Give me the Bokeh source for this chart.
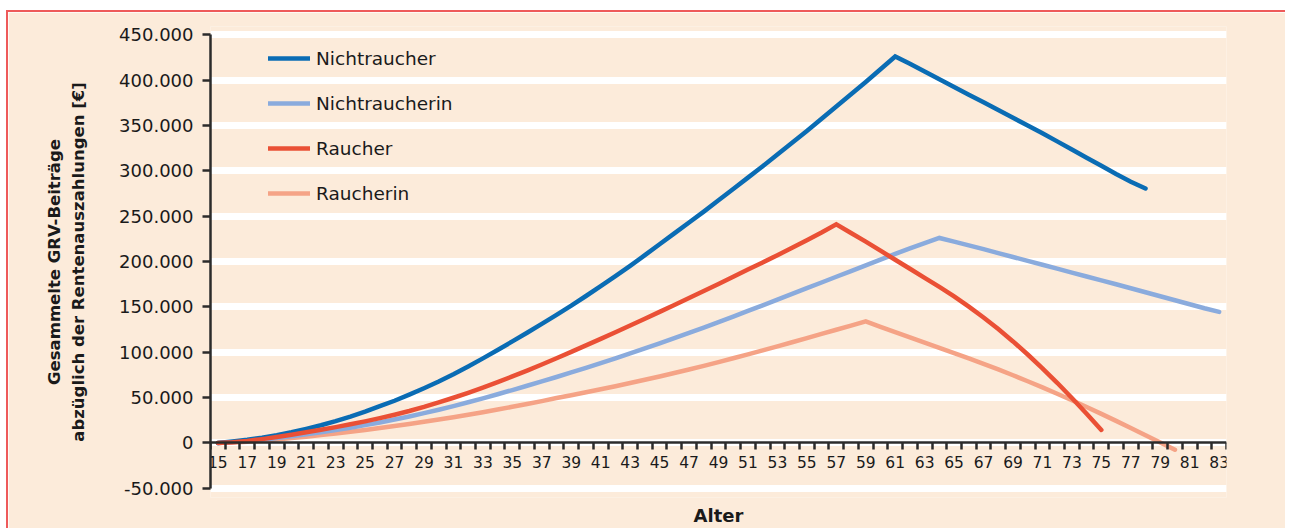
from bokeh.plotting import figure
from bokeh.models import LinearAxis, FixedTicker, Range1d, Legend, LegendItem, Title, ColumnDataSource
from bokeh.embed import file_html
from bokeh.resources import INLINE

# ---------------- data ----------------
ages_nichtraucher = list(range(15, 79))
nichtraucher = [0, 1600, 3500, 5800, 8600, 11800, 15500, 19500, 24000, 29000,
                34500, 40500, 46500, 53200, 60300, 67800, 75800, 84300, 93200, 102400,
                111900, 121500, 131200, 141200, 151400, 162000, 172800, 183800, 195200, 207000,
                219000, 231000, 243000, 255000, 267500, 280000, 292500, 305000, 318000, 331000,
                344000, 357500, 371000, 384500, 398000, 412000, 426000,
                418000, 409500, 401000, 392500, 384000, 375500, 367000, 358500, 350000,
                341500, 332500, 323500, 314500, 305500, 296500, 288000, 280500]

ages_nichtraucherin = list(range(15, 84))
nichtraucherin = [0, 900, 2100, 3600, 5400, 7400, 9500, 11800, 14200, 16800,
                  19600, 22600, 25800, 29200, 32800, 36600, 40600, 44800, 49200, 53700,
                  58300, 63000, 67800, 72700, 77700, 82800, 88000, 93300, 98700, 104200,
                  109800, 115500, 121300, 127200, 133200, 139300, 145500, 151700, 158000, 164300,
                  170600, 176900, 183200, 189500, 195800, 202100, 208400, 214500, 220400, 226000,
                  222000, 217800, 213600, 209300, 205000, 200700, 196400, 192100, 187800, 183500,
                  179200, 174900, 170500, 166100, 161700, 157300, 152900, 148500, 144500]

ages_raucher = list(range(15, 76))
raucher = [0, 800, 2200, 4200, 6500, 9000, 11700, 14500, 17400, 20500,
           23800, 27300, 31100, 35200, 39700, 44600, 49800, 55300, 61000, 67000,
           73300, 79800, 86500, 93400, 100400, 107500, 114700, 122000, 129400, 136900,
           144500, 152100, 159800, 167500, 175300, 183200, 191100, 199000, 207000, 215100,
           223500, 232000, 241000,
           231500, 222000, 212000, 202000, 192000, 182000, 172000, 161500, 150300, 138300,
           125500, 111900, 97500, 82300, 66300, 49500, 32100, 14300]

ages_raucherin = list(range(15, 81))
raucherin = [0, 500, 1300, 2400, 3800, 5300, 6900, 8600, 10400, 12300,
             14300, 16400, 18600, 20900, 23300, 25800, 28400, 31100, 33900, 36800,
             39800, 42900, 46100, 49500, 52600, 55800, 59100, 62500, 66000, 69600,
             73300, 77100, 81000, 85000, 89100, 93300, 97600, 102000, 106500, 111000,
             115600, 120200, 124800, 129400, 134000,
             128000, 122200, 116400, 110600, 104800, 99000, 93100, 87100, 81000, 74600,
             68000, 61200, 54200, 47000, 39600, 32000, 24300, 16500, 8500, 500, -7500]

x_label_ages = list(range(15, 84, 2))
y_ticks = [-50000, 0, 50000, 100000, 150000, 200000, 250000, 300000, 350000, 400000, 450000]
y_tick_labels = ["-50.000", "0", "50.000", "100.000", "150.000", "200.000",
                 "250.000", "300.000", "350.000", "400.000", "450.000"]

series_names = ["Nichtraucher", "Nichtraucherin", "Raucher", "Raucherin"]
series_colors = ["#0a6cb4", "#8aabdd", "#ea5035", "#f5a386"]

x_title = "Alter"
y_title = "Gesammelte GRV-Beiträge\nabzüglich der Rentenauszahlungen [€]"

# ---------------- styling ----------------
BG = "#fcebda"
INK = "#1a1a1a"
AXIS = "#2b2b2b"
FONT = "DejaVu Sans"
FRAME_RED = "#ee5a5a"

p = figure(width=1279, height=518, output_backend="svg", toolbar_location=None,
           x_range=Range1d(14.5, 83.5), y_range=Range1d(-60177, 459132),
           x_axis_location=None, y_axis_location="left",
           min_border_left=202, min_border_right=61, min_border_top=14, min_border_bottom=32)
p.styles = {
    "margin-left": "6px", "margin-top": "10px",
    "padding-left": "2px", "padding-top": "2px",
    "background": (f"linear-gradient({FRAME_RED}, {FRAME_RED}) left top / 100% 2px no-repeat, "
                   f"linear-gradient({FRAME_RED}, {FRAME_RED}) left top / 2px 100% no-repeat"),
}
p.background_fill_color = BG
p.border_fill_color = BG
p.outline_line_color = None

# grid
p.xgrid.visible = False
p.ygrid.ticker = FixedTicker(ticks=y_ticks)
p.ygrid.grid_line_color = "white"
p.ygrid.grid_line_width = 7

# y axis
ya = p.yaxis[0]
ya.ticker = FixedTicker(ticks=y_ticks)
ya.major_label_overrides = dict(zip(y_ticks, y_tick_labels))
ya.bounds = (y_ticks[0], y_ticks[-1])
ya.axis_line_color = AXIS
ya.axis_line_width = 2.5
ya.major_tick_line_color = AXIS
ya.major_tick_line_width = 2.5
ya.major_tick_out = 8
ya.major_tick_in = 0
ya.minor_tick_line_color = None
ya.major_label_standoff = 9
ya.major_label_text_font = FONT
ya.major_label_text_font_size = "18px"
ya.major_label_text_color = INK
ya.axis_label = y_title
ya.axis_label_text_font = FONT
ya.axis_label_text_font_size = "16.5px"
ya.axis_label_text_font_style = "bold"
ya.axis_label_text_line_height = 1.25
ya.axis_label_text_color = INK
ya.axis_label_standoff = 28

# x axis crossing at 0
boundaries = [a + 0.5 for a in range(14, 84)]
xa = LinearAxis(fixed_location=0,
                ticker=FixedTicker(ticks=x_label_ages, minor_ticks=boundaries))
xa.bounds = (14.5, 83.5)
xa.axis_line_color = AXIS
xa.axis_line_width = 2.5
xa.major_tick_line_color = None
xa.major_tick_out = 7
xa.major_tick_in = 0
xa.minor_tick_line_color = AXIS
xa.minor_tick_line_width = 2.5
xa.minor_tick_out = 7
xa.minor_tick_in = 0
xa.major_label_standoff = 6
xa.major_label_text_font = FONT
xa.major_label_text_font_size = "15.5px"
xa.major_label_text_color = INK
p.add_layout(xa, "below")

p.add_layout(Title(text=x_title, align="center", text_font=FONT, text_font_size="18px",
                   text_font_style="bold", text_color=INK), "below")

# lines
data = {
    "Nichtraucher": (ages_nichtraucher, nichtraucher),
    "Nichtraucherin": (ages_nichtraucherin, nichtraucherin),
    "Raucher": (ages_raucher, raucher),
    "Raucherin": (ages_raucherin, raucherin),
}
renderers = {}
for name in ["Raucherin", "Nichtraucherin", "Nichtraucher", "Raucher"]:
    xs, ys = data[name]
    color = series_colors[series_names.index(name)]
    src = ColumnDataSource(dict(x=xs, y=ys))
    renderers[name] = p.line("x", "y", source=src, line_color=color, line_width=4.5,
                             line_cap="round", line_join="miter")

legend = Legend(items=[LegendItem(label=n, renderers=[renderers[n]]) for n in series_names],
                location=(58, 293), orientation="vertical",
                padding=0, margin=0, spacing=23, glyph_width=42, glyph_height=22,
                label_height=22, label_standoff=6,
                label_text_font=FONT, label_text_font_size="18.5px", label_text_color=INK,
                border_line_color=None, background_fill_alpha=0)
p.add_layout(legend)

open("out.html", "w").write(file_html(p, INLINE))
